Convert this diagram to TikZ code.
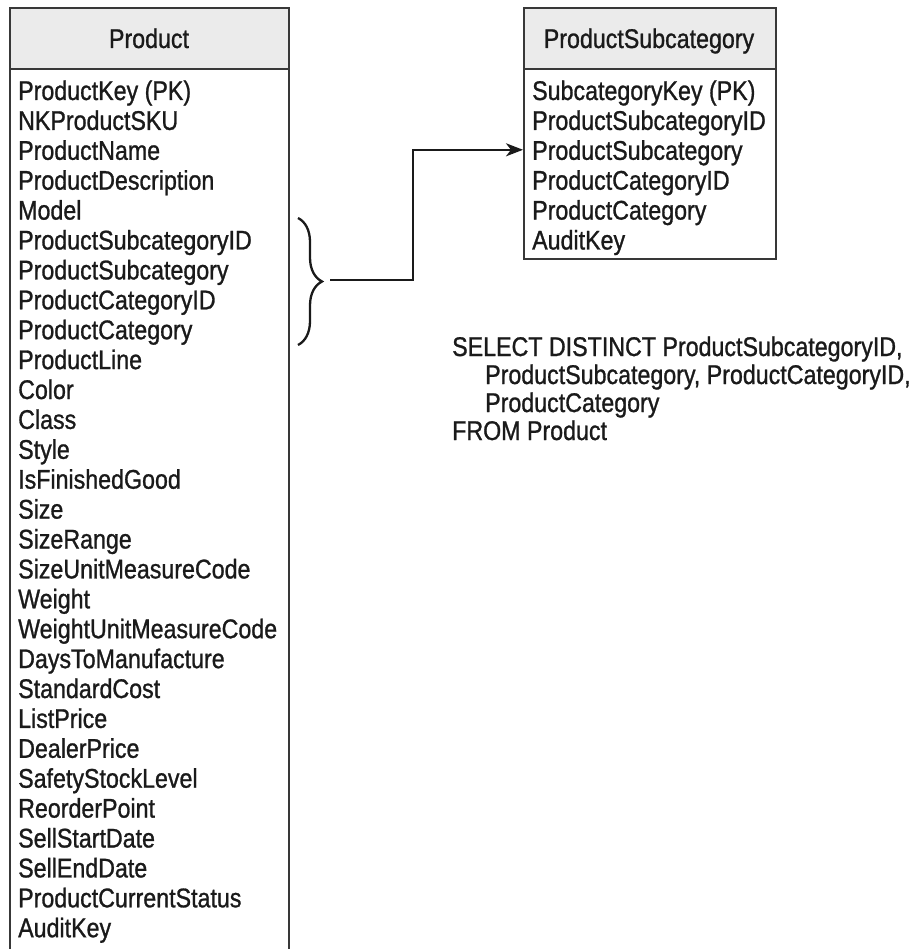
\documentclass[tikz,border=0pt]{standalone}
\usepackage{fontspec}
\setmainfont[FakeStretch=0.86,FakeBold=1]{Liberation Sans}
\usetikzlibrary{arrows.meta,decorations.pathreplacing}
\definecolor{ink}{HTML}{1A1A1A}
\definecolor{headfill}{HTML}{EBEBEB}
\definecolor{edge}{HTML}{383838}

\begin{document}
\begin{tikzpicture}[x=1pt,y=-1pt,
  every node/.style={font=\fontsize{27}{30}\selectfont, text=ink, inner sep=0pt},
  field/.style={anchor=base west},
  title/.style={anchor=base},
  tablebox/.style={draw=edge, line width=2.3pt, anchor=north west},
  headbox/.style={tablebox, fill=headfill},
  link/.style={draw=ink, line width=2.3pt}]
\useasboundingbox (0,0) rectangle (921,949);

% Product table
\node[headbox, minimum width=279, minimum height=61] (prodhead) at (9,7) {};
\node[tablebox, minimum width=279, minimum height=900] (prodbody) at (9,68) {};
\node[title] (prodtitle) at (149,48) {Product};
\foreach \name [count=\i from 0] in {ProductKey (PK), NKProductSKU, ProductName,
    ProductDescription, Model, ProductSubcategoryID, ProductSubcategory,
    ProductCategoryID, ProductCategory, ProductLine, Color, Class, Style,
    IsFinishedGood, Size, SizeRange, SizeUnitMeasureCode, Weight,
    WeightUnitMeasureCode, DaysToManufacture, StandardCost, ListPrice,
    DealerPrice, SafetyStockLevel, ReorderPoint, SellStartDate, SellEndDate,
    ProductCurrentStatus, AuditKey}
  \node[field] (p\i) at (18,100+29.9*\i) {\name};

% ProductSubcategory table
\node[headbox, minimum width=252, minimum height=61] (subhead) at (523,7) {};
\node[tablebox, minimum width=252, minimum height=190] (subbody) at (523,68) {};
\node[title] (subtitle) at (649,48) {ProductSubcategory};
\foreach \name [count=\i from 0] in {SubcategoryKey (PK), ProductSubcategoryID,
    ProductSubcategory, ProductCategoryID, ProductCategory, AuditKey}
  \node[field] (s\i) at (532,100+29.9*\i) {\name};

% brace grouping the subcategory columns and the link to the new table
\coordinate (bracetop) at (298,218);
\coordinate (bracebot) at (298,345);
\draw[link, decorate, decoration={brace, amplitude=24pt}] (bracetop) -- (bracebot);
\coordinate (linkstart) at (330,280);
\coordinate (linkbend) at (413,280);
\draw[link, -{Stealth[length=17pt,width=13pt,inset=5pt]}]
  (linkstart) -- (linkbend) |- ([yshift=10pt]s2.base -| subbody.west);

% query that fills the table
\node[field] (sql1) at (452,356) {SELECT DISTINCT ProductSubcategoryID,};
\node[field] (sql2) at (485,384) {ProductSubcategory, ProductCategoryID,};
\node[field] (sql3) at (485,412) {ProductCategory};
\node[field] (sql4) at (452,440) {FROM Product};
\end{tikzpicture}
\end{document}
